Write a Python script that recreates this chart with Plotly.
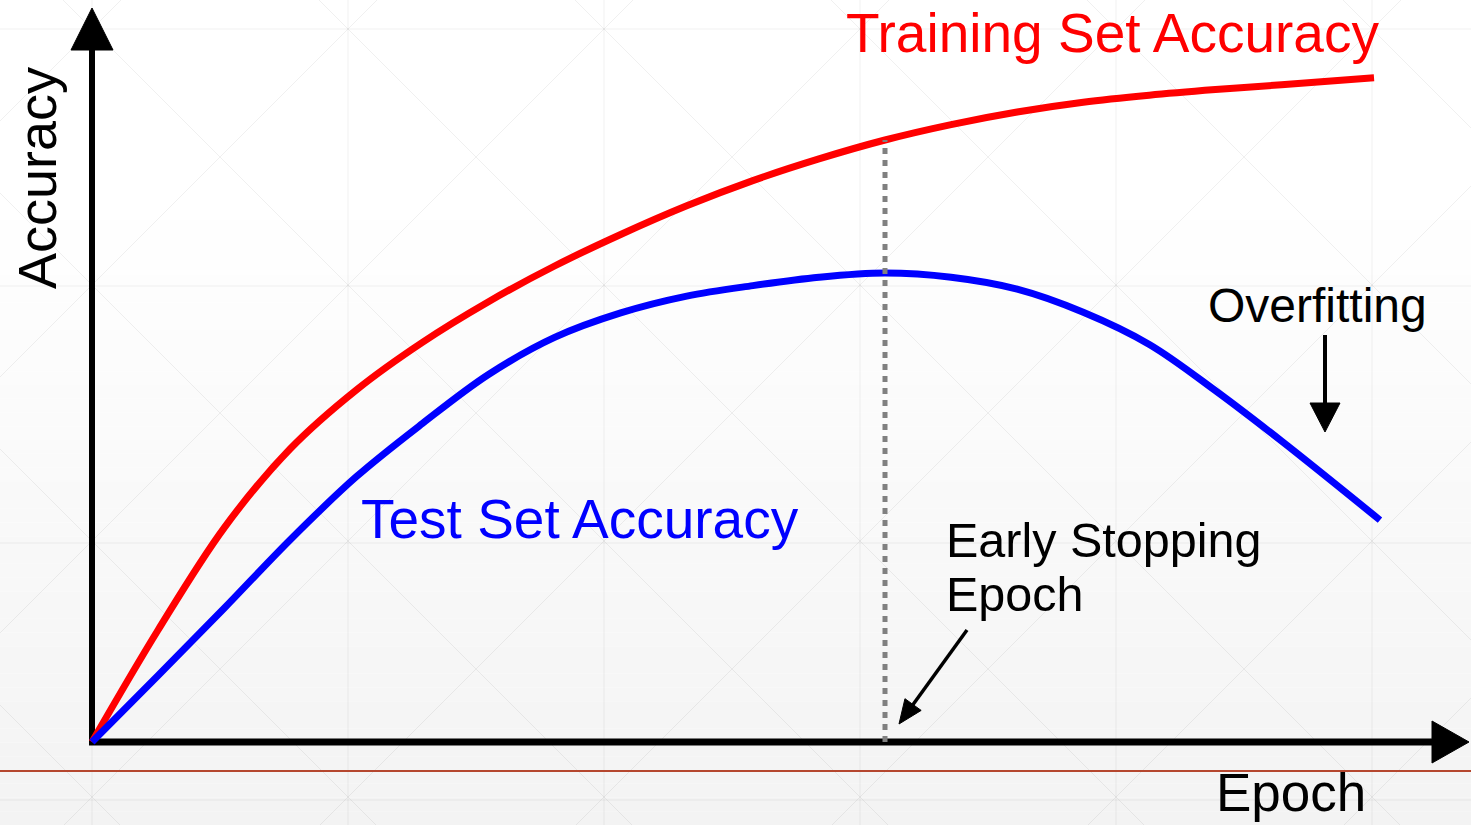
import plotly.graph_objects as go

W, H = 1471, 825

# ---------------- data ----------------
train_epochs = [0, 5, 10, 15, 20, 25, 30, 35, 40, 45, 50, 55, 60, 65, 70, 75,
                80, 85, 90, 97]
train_acc = [0.0, 0.160, 0.306, 0.419, 0.503, 0.571, 0.629, 0.680, 0.725, 0.766,
             0.802, 0.833, 0.860, 0.882, 0.900, 0.914, 0.924, 0.932, 0.939, 0.949]

test_epochs = [0, 5, 10, 15, 20, 25, 30, 35, 40, 45, 50, 55, 60, 65, 70, 75,
               80, 85, 90, 97.45]
test_acc = [0.0, 0.095, 0.191, 0.289, 0.379, 0.455, 0.525, 0.578, 0.613, 0.637,
            0.652, 0.664, 0.670, 0.664, 0.647, 0.614, 0.568, 0.502, 0.430, 0.317]

stop_epoch = 60.0
stop_train_acc = 0.860

# axis scaling (epoch 0 / accuracy 0 at the origin of the drawn axes)
PX_PER_EPOCH = 13.2167
PX_PER_ACC = 700.0
ORIGIN_PX = (92, 742)

x_range = [-ORIGIN_PX[0] / PX_PER_EPOCH, (W - ORIGIN_PX[0]) / PX_PER_EPOCH]
y_range = [-(H - ORIGIN_PX[1]) / PX_PER_ACC, ORIGIN_PX[1] / PX_PER_ACC]

FONT = "Liberation Sans, Arial, sans-serif"


def px(x):
    return x / W


def py(y):
    return 1 - y / H


fig = go.Figure()

fig.add_trace(go.Scatter(
    x=train_epochs, y=train_acc, mode="lines",
    line=dict(color="#ff0000", width=7, shape="spline", smoothing=1.0),
    hoverinfo="skip", showlegend=False))

fig.add_trace(go.Scatter(
    x=test_epochs, y=test_acc, mode="lines",
    line=dict(color="#0000ff", width=7, shape="spline", smoothing=1.0),
    hoverinfo="skip", showlegend=False))

fig.add_trace(go.Scatter(
    x=[stop_epoch, stop_epoch], y=[0, stop_train_acc], mode="lines",
    line=dict(color="#808080", width=5, dash="6px,6px"),
    hoverinfo="skip", showlegend=False))

shapes = []

# background gradient
N = 60
for i in range(N):
    y0 = H * i / N
    y1 = H * (i + 1) / N
    ym = (y0 + y1) / 2
    t = max(0.0, (ym - 200) / (H - 200))
    v = int(round(255 - 12 * t))
    shapes.append(dict(type="rect", xref="paper", yref="paper",
                       x0=0, x1=1, y0=py(y1), y1=py(y0),
                       fillcolor=f"rgb({v},{v},{v})", line=dict(width=0),
                       layer="below"))

grid_col = "rgba(0,0,0,0.06)"
for gx in [92 - 256, 92, 348, 604, 860, 1116, 1372]:
    shapes.append(dict(type="line", xref="paper", yref="paper",
                       x0=px(gx), x1=px(gx), y0=0, y1=1,
                       line=dict(color=grid_col, width=1), layer="below"))
for gy in [29, 286, 543, 800]:
    shapes.append(dict(type="line", xref="paper", yref="paper",
                       x0=0, x1=1, y0=py(gy), y1=py(gy),
                       line=dict(color=grid_col, width=1), layer="below"))
for k in range(-6, 10):
    c = -63 + 256 * k  # y = x + c
    shapes.append(dict(type="line", xref="paper", yref="paper",
                       x0=px(-200), y0=py(-200 + c), x1=px(1700), y1=py(1700 + c),
                       line=dict(color=grid_col, width=1), layer="below"))
    c2 = 121 + 256 * k  # y = -x + c2
    shapes.append(dict(type="line", xref="paper", yref="paper",
                       x0=px(-200), y0=py(200 + c2), x1=px(1700), y1=py(-1700 + c2),
                       line=dict(color=grid_col, width=1), layer="below"))

# reddish baseline
shapes.append(dict(type="line", xref="paper", yref="paper",
                   x0=0, x1=1, y0=py(771), y1=py(771),
                   line=dict(color="#b5472f", width=2), layer="below"))

# axes with arrowheads
shapes.append(dict(type="line", xref="paper", yref="paper",
                   x0=px(92), x1=px(92), y0=py(745), y1=py(45),
                   line=dict(color="black", width=6), layer="below"))
shapes.append(dict(type="path", xref="paper", yref="paper",
                   path=f"M {px(92)},{py(8)} L {px(71)},{py(50)} L {px(113)},{py(50)} Z",
                   fillcolor="black", line=dict(color="black", width=1), layer="below"))
shapes.append(dict(type="line", xref="paper", yref="paper",
                   x0=px(89), x1=px(1436), y0=py(742), y1=py(742),
                   line=dict(color="black", width=7), layer="below"))
shapes.append(dict(type="path", xref="paper", yref="paper",
                   path=f"M {px(1469)},{py(742)} L {px(1432)},{py(721)} L {px(1432)},{py(763)} Z",
                   fillcolor="black", line=dict(color="black", width=1), layer="below"))

# overfitting arrow
shapes.append(dict(type="line", xref="paper", yref="paper",
                   x0=px(1325), x1=px(1325), y0=py(335), y1=py(408),
                   line=dict(color="black", width=4)))
shapes.append(dict(type="path", xref="paper", yref="paper",
                   path=f"M {px(1325)},{py(432)} L {px(1310)},{py(403)} L {px(1340)},{py(403)} Z",
                   fillcolor="black", line=dict(color="black", width=1)))

# early stopping arrow
tail = (967, 630)
tip = (899, 724)
dx, dy = tip[0] - tail[0], tip[1] - tail[1]
L = (dx * dx + dy * dy) ** 0.5
ux, uy = dx / L, dy / L
nx, ny = -uy, ux
hl, hw = 24, 10
bx, by = tip[0] - hl * ux, tip[1] - hl * uy
shapes.append(dict(type="line", xref="paper", yref="paper",
                   x0=px(tail[0]), y0=py(tail[1]), x1=px(bx + 4 * ux), y1=py(by + 4 * uy),
                   line=dict(color="black", width=3.5)))
shapes.append(dict(type="path", xref="paper", yref="paper",
                   path=(f"M {px(tip[0])},{py(tip[1])} "
                         f"L {px(bx + hw * nx)},{py(by + hw * ny)} "
                         f"L {px(bx - hw * nx)},{py(by - hw * ny)} Z"),
                   fillcolor="black", line=dict(color="black", width=1)))

annotations = [
    dict(text="Training Set Accuracy", x=px(1112), y=py(33), xanchor="center", yanchor="middle",
         font=dict(family=FONT, size=55, color="#ff0000")),
    dict(text="Test Set Accuracy", x=px(580), y=py(519), xanchor="center", yanchor="middle",
         font=dict(family=FONT, size=55, color="#0000ff")),
    dict(text="Overfitting", x=px(1317), y=py(306), xanchor="center", yanchor="middle",
         font=dict(family=FONT, size=48, color="black")),
    dict(text="Early Stopping", x=px(944), y=py(540), xanchor="left", yanchor="middle",
         font=dict(family=FONT, size=48.5, color="black")),
    dict(text="Epoch", x=px(944), y=py(594), xanchor="left", yanchor="middle",
         font=dict(family=FONT, size=48.5, color="black")),
    dict(text="Epoch", x=px(1291), y=py(792), xanchor="center", yanchor="middle",
         font=dict(family=FONT, size=53, color="black")),
    dict(text="Accuracy", x=px(37), y=py(178), xanchor="center", yanchor="middle",
         textangle=-90, font=dict(family=FONT, size=54, color="black")),
]
for a in annotations:
    a.update(xref="paper", yref="paper", showarrow=False)

fig.update_layout(
    width=W, height=H, autosize=False,
    margin=dict(l=0, r=0, t=0, b=0, pad=0),
    paper_bgcolor="white", plot_bgcolor="rgba(0,0,0,0)",
    xaxis=dict(range=x_range, visible=False, fixedrange=True),
    yaxis=dict(range=y_range, visible=False, fixedrange=True),
    shapes=shapes, annotations=annotations,
    showlegend=False,
)

fig.write_html("out.html", config={"displayModeBar": False, "staticPlot": True},
               post_script="document.body.style.margin='0';document.body.style.overflow='hidden';")
